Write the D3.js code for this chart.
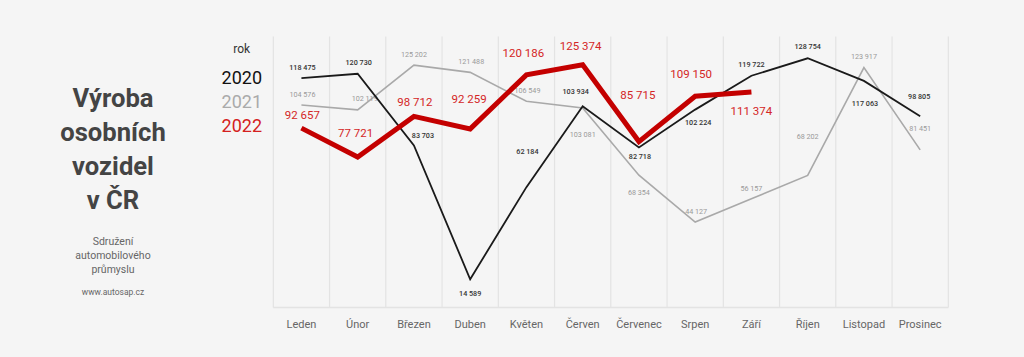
<!DOCTYPE html>
<html>
<head>
<meta charset="utf-8">
<script src="https://cdn.jsdelivr.net/npm/d3@7"></script>
<style>
html,body{margin:0;padding:0;background:#f5f5f5;}
svg{display:block;font-family:Roboto,"Noto Sans",sans-serif;}
</style>
</head>
<body>
<svg id="chart" width="1024" height="357"></svg>
<script>
const months = ["Leden","Únor","Březen","Duben","Květen","Červen","Červenec","Srpen","Září","Říjen","Listopad","Prosinec"];
const years = ["2020","2021","2022"];
const values2020 = [118475,120730,83703,14589,62184,103934,82718,102224,119722,128754,117063,98805];
const values2021 = [104576,102119,125202,121488,106549,103081,68354,44127,56157,68202,123917,81451];
const values2022 = [92657,77721,98712,92259,120186,125374,85715,109150,111374];
const titleLines = ["Výroba","osobních","vozidel","v ČR"];
const sourceLines = ["Sdružení","automobilového","průmyslu"];
const sourceUrl = "www.autosap.cz";

// label offsets (layout only)
const off2020 = [[1,-11],[1,-11],[9,-10],[0,14],[1,-36],[-7,-15],[1,9],[3,13],[0,-11],[0,-11.5],[1,23],[-1,-19.5]];
const off2021 = [[1,-11],[7,-11],[0,-11],[1,-11],[1,-10.5],[0,27],[0,17.5],[1,-10.5],[0,-10.5],[0,-39],[0,-11],[0,-21]];
const off2022 = [[1,-13],[-2,-24],[1,-14],[-1,-30],[-3,-21.5],[-2,-19],[-1,-46.5],[-4,-22],[0,19]];

const svg = d3.select("#chart");
const fmt = v => d3.format(",")(v).replace(/,/g," ");

const x = d3.scaleBand().domain(months).range([273.3,948.3]).padding(0);
const y = d3.scaleLinear().domain([0,140000]).range([307.5,36.5]);

// gridlines
const gx = [...months.map(m=>x(m)), x.range()[1]];
svg.append("g").selectAll("line").data(gx).join("line")
  .attr("x1",d=>d).attr("x2",d=>d).attr("y1",36.5).attr("y2",307.5)
  .attr("stroke","#e3e3e3").attr("stroke-width",1.2);
svg.append("line").attr("x1",273.3).attr("x2",948.3).attr("y1",307.5).attr("y2",307.5)
  .attr("stroke","#e3e3e3").attr("stroke-width",1.5);

// month axis
const ax = svg.append("g").attr("transform","translate(0,307.5)")
  .call(d3.axisBottom(x).tickSize(0).tickPadding(0));
ax.select(".domain").remove();
ax.selectAll("text").attr("y",16.5).attr("dy","0.35em")
  .attr("font-family","Roboto, sans-serif").attr("font-size",11).attr("fill","#666");

const cx = m => x(m) + x.bandwidth()/2;
const line = d3.line().x((d,i)=>cx(months[i])).y(d=>y(d));

function series(vals, color, width, offs, lcolor, lsize, lweight){
  svg.append("path").datum(vals).attr("d",line).attr("fill","none")
    .attr("stroke",color).attr("stroke-width",width).attr("stroke-linejoin","miter");
  svg.append("g").selectAll("text").data(vals).join("text")
    .attr("x",(d,i)=>cx(months[i])+offs[i][0])
    .attr("y",(d,i)=>y(d)+offs[i][1])
    .attr("text-anchor","middle").attr("dominant-baseline","central")
    .attr("font-size",lsize).attr("font-weight",lweight).attr("fill",lcolor)
    .text(d=>fmt(d));
}
series(values2021,"#a9a9a9",1.6,off2021,"#9a9a9a",7.2,400);
series(values2020,"#1a1a1a",1.8,off2020,"#333",7.2,500);
series(values2022,"#c40000",5,off2022,"#d42626",11.5,400);

// legend
svg.append("text").attr("x",241.7).attr("y",48.5).attr("text-anchor","middle")
  .attr("dominant-baseline","central").attr("font-size",12).attr("fill","#333").text("rok");
const legColors = ["#111","#aaa","#d42020"];
svg.append("g").selectAll("text").data(years).join("text")
  .attr("x",262).attr("y",(d,i)=>77.5+i*24.2).attr("text-anchor","end")
  .attr("dominant-baseline","central").attr("font-size",18).attr("fill",(d,i)=>legColors[i]).text(d=>d);

// title
svg.append("g").selectAll("text").data(titleLines).join("text")
  .attr("x",113).attr("y",(d,i)=>97.5+i*34.3).attr("text-anchor","middle")
  .attr("dominant-baseline","central").attr("font-size",25.6).attr("font-weight",700)
  .attr("fill","#444").text(d=>d);
svg.append("g").selectAll("text").data(sourceLines).join("text")
  .attr("x",113).attr("y",(d,i)=>241+i*14).attr("text-anchor","middle")
  .attr("dominant-baseline","central").attr("font-size",10.5).attr("fill","#666").text(d=>d);
svg.append("text").attr("x",113).attr("y",292).attr("text-anchor","middle")
  .attr("dominant-baseline","central").attr("font-size",8.5).attr("fill","#666").text(sourceUrl);
</script>
</body>
</html>
